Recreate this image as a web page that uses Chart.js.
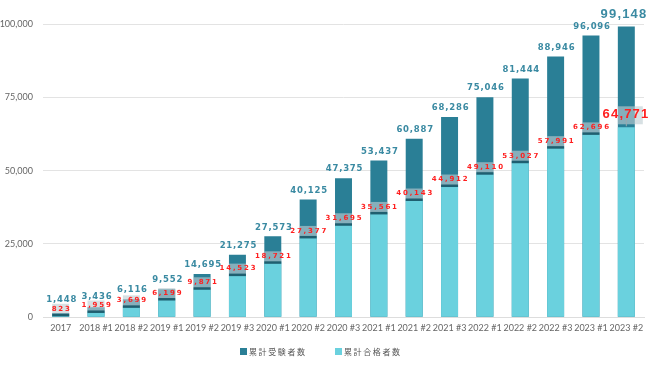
<!DOCTYPE html>
<html>
<head>
<meta charset="utf-8">
<script src="https://cdn.jsdelivr.net/npm/chart.js@4"></script>
<style>
  html, body { margin: 0; padding: 0; background: #fff; }
  #wrap { width: 650px; height: 366px; }
</style>
</head>
<body>
<div id="wrap"><canvas id="chart"></canvas></div>
<script>
const labels = ['2017', '2018 #1', '2018 #2', '2019 #1', '2019 #2', '2019 #3',
  '2020 #1', '2020 #2', '2020 #3', '2021 #1', '2021 #2', '2021 #3',
  '2022 #1', '2022 #2', '2022 #3', '2023 #1', '2023 #2'];
const examinees = [1448, 3436, 6116, 9552, 14695, 21275, 27573, 40125, 47375,
  53437, 60887, 68286, 75046, 81444, 88946, 96096, 99148];
const passed = [823, 1959, 3699, 6199, 9871, 14523, 18721, 27377, 31695,
  35561, 40143, 44912, 49110, 53027, 57991, 62696, 64771];

const DARK = '#2a7f96';
const LIGHT = '#6ad1de';

const fmt = (v) => v.toLocaleString('en-US');

// gray label boxes, red passed labels and teal total labels
const labelPlugin = {
  id: 'labels',
  afterDatasetsDraw(chart) {
    const ctx = chart.ctx;
    const totMeta = chart.getDatasetMeta(0);
    const pasMeta = chart.getDatasetMeta(1);
    const last = labels.length - 1;
    ctx.save();
    ctx.textAlign = 'center';
    ctx.textBaseline = 'middle';
    pasMeta.data.forEach((bar, i) => {
      const x = bar.x;
      const w = bar.width;
      const y = bar.y;
      const big = i === last;
      // translucent box above passed value
      ctx.fillStyle = 'rgba(190, 205, 210, 0.62)';
      if (big) {
        ctx.fillRect(x - w / 2, y - 21, w + 8, 18);
        ctx.strokeStyle = '#9aa9ad';
        ctx.lineWidth = 1;
        ctx.beginPath();
        ctx.moveTo(x, y - 9);
        ctx.lineTo(x, y - 1);
        ctx.stroke();
      } else {
        ctx.fillRect(x - w / 2, y - 11, w, 11);
        ctx.fillStyle = '#1f5f70';
        ctx.fillRect(x - w / 2, y - 1, w, 2.5);
      }
      // red passed label
      ctx.fillStyle = '#ff1f1f';
      let ry;
      if (big) {
        ctx.font = 'bold 13px "Liberation Sans"';
        ctx.letterSpacing = '1.2px';
        ry = y - 13;
        ctx.fillText(fmt(passed[i]), 626, ry);
      } else {
        ctx.font = 'bold 7px "DejaVu Sans"';
        ctx.letterSpacing = '1.8px';
        ry = y - 6;
        ctx.fillText(fmt(passed[i]), x + 1, ry);
      }
      // total label
      const top = totMeta.data[i].y;
      ctx.fillStyle = '#3a8aa2';
      if (big) {
        ctx.font = 'bold 13px "Liberation Sans"';
        ctx.letterSpacing = '1.2px';
        ctx.fillText(fmt(examinees[i]), 624, top - 12);
      } else {
        ctx.font = 'bold 8.5px "DejaVu Sans"';
        ctx.letterSpacing = '0.8px';
        ctx.fillText(fmt(examinees[i]), x + 1, Math.min(top - 9, ry - 9));
      }
    });
    ctx.restore();
  }
};

// legend drawn with letter spacing, dark series first
const legendPlugin = {
  id: 'spacedLegend',
  afterDraw(chart) {
    const ctx = chart.ctx;
    const items = [[0, 240], [1, 335]];
    ctx.save();
    ctx.font = '8px "Noto Sans CJK JP"';
    ctx.letterSpacing = '1.6px';
    ctx.textAlign = 'left';
    ctx.textBaseline = 'middle';
    items.forEach(([di, x]) => {
      const ds = chart.data.datasets[di];
      ctx.fillStyle = ds.backgroundColor;
      ctx.fillRect(x, 348, 7, 7);
      ctx.fillStyle = '#555';
      ctx.fillText(ds.label, x + 9, 352);
    });
    ctx.restore();
  }
};

new Chart(document.getElementById('chart'), {
  type: 'bar',
  data: {
    labels: labels,
    datasets: [
      {
        label: '累計受験者数',
        data: examinees,
        backgroundColor: DARK,
        grouped: false,
        order: 1,
        barPercentage: 0.8,
        categoryPercentage: 0.6,
      },
      {
        label: '累計合格者数',
        data: passed,
        backgroundColor: LIGHT,
        grouped: false,
        order: 0,
        barPercentage: 0.8,
        categoryPercentage: 0.6,
      },
    ],
  },
  options: {
    responsive: true,
    maintainAspectRatio: false,
    animation: false,
    layout: { padding: { top: 24, right: 6, left: 0, bottom: 28 } },
    plugins: {
      legend: { display: false },
      tooltip: { enabled: false },
    },
    scales: {
      x: {
        grid: { display: false, drawTicks: false },
        border: { color: '#dddddd' },
        ticks: { color: '#666', padding: 5, font: { size: 9, family: 'Lato' }, maxRotation: 0, autoSkip: false },
      },
      y: {
        min: 0,
        max: 100000,
        afterFit: (scale) => { scale.width = 43; },
        ticks: {
          stepSize: 25000,
          color: '#666',
          padding: 10,
          font: { size: 9, family: 'Lato' },
          callback: (v) => fmt(v),
        },
        grid: { color: '#e3e3e3', drawTicks: false },
        border: { display: false },
      },
    },
  },
  plugins: [labelPlugin, legendPlugin],
});
</script>
</body>
</html>
